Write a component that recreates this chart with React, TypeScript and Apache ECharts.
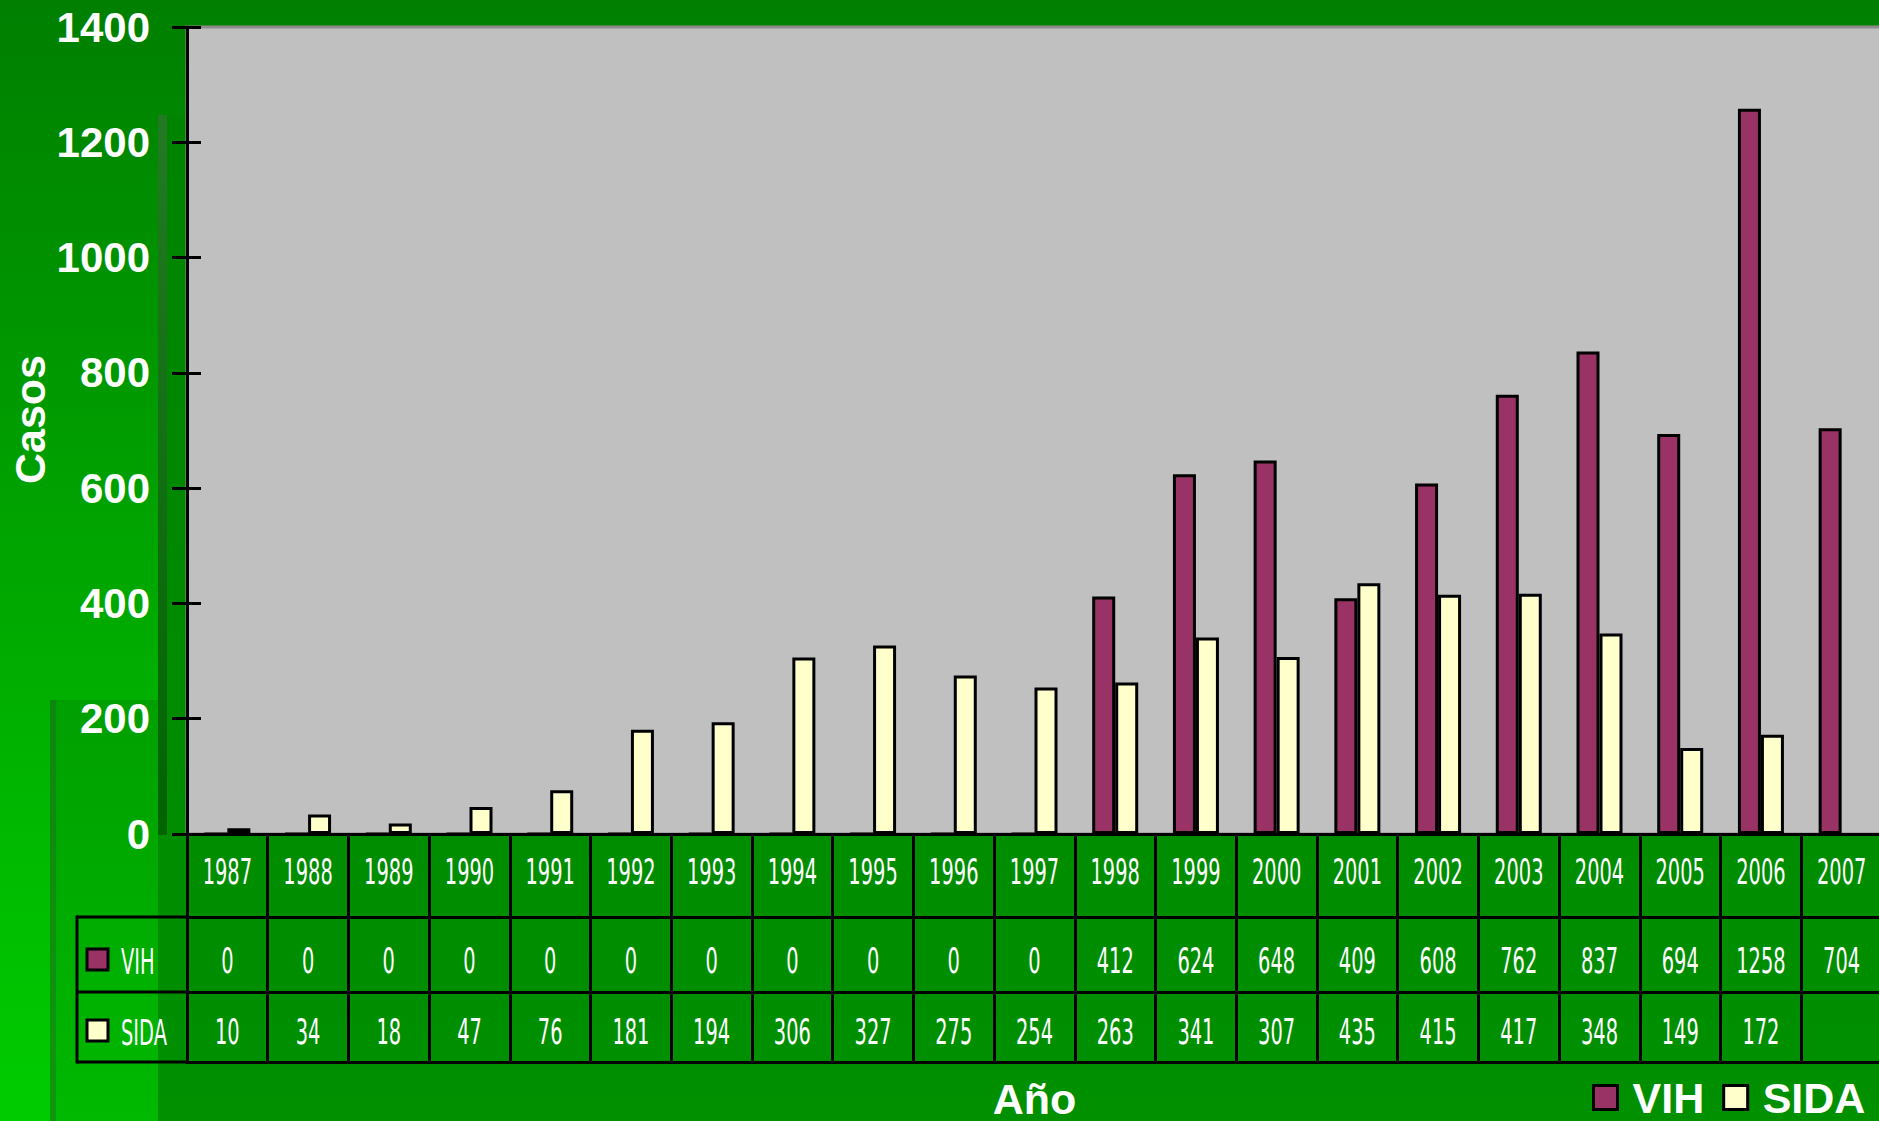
import React, { useEffect, useRef } from "react";
import * as echarts from "echarts";

const years = ["1987", "1988", "1989", "1990", "1991", "1992", "1993", "1994", "1995", "1996", "1997", "1998", "1999", "2000", "2001", "2002", "2003", "2004", "2005", "2006", "2007"];
const vih: (number | null)[] = [0, 0, 0, 0, 0, 0, 0, 0, 0, 0, 0, 412, 624, 648, 409, 608, 762, 837, 694, 1258, 704];
const sida: (number | null)[] = [10, 34, 18, 47, 76, 181, 194, 306, 327, 275, 254, 263, 341, 307, 435, 415, 417, 348, 149, 172, null];
const yMin = 0;
const yMax = 1400;
const yStep = 200;

const VIH_COLOR = "#993366";
const SIDA_COLOR = "#ffffcc";
const TABLE_FONT = "'DejaVu Sans Condensed', 'Liberation Sans Narrow', sans-serif";
const TABLE_FONT_SIZE = 36;
const TABLE_SCALE_X = 0.6;
const BOLD_FONT = "'Liberation Sans', Arial, sans-serif";

export default function App() {
  const ref = useRef<HTMLDivElement>(null);
  useEffect(() => {
    if (!ref.current) return;
    const chart = echarts.init(ref.current, null, { renderer: "svg" });
    const gridLeft = 187;
    const gridTop = 27;
    const gridHeight = 807;
    const gridWidth = 1695;
    const axisY = gridTop + gridHeight; // 834
    const rowOffsets = [0, 83, 158, 228];
    const rowCenters = [axisY + 37, axisY + 126, axisY + 197];
    const tableFont = `${TABLE_FONT_SIZE}px ${TABLE_FONT}`;
    const blackLine = { show: true, onZero: false, lineStyle: { color: "#000", width: 3 } };
    const cellText = (text: string, x: number, y: number, align: string) => ({
      type: "text",
      x,
      y,
      scaleX: TABLE_SCALE_X,
      style: { text, fill: "#fff", font: tableFont, align, verticalAlign: "middle" },
    });
    const option: any = {
      animation: false,
      backgroundColor: "transparent",
      graphic: {
        elements: [
          {
            type: "rect", z: -100, silent: true,
            shape: { x: 0, y: 0, width: 1879, height: 1121 },
            style: { fill: { type: "linear", x: 0, y: 0, x2: 0, y2: 1, colorStops: [{ offset: 0, color: "#007f00" }, { offset: 1, color: "#00cc00" }] } },
          },
          {
            type: "rect", z: -99, silent: true,
            shape: { x: 50, y: 700, width: 1829, height: 421 },
            style: { fill: "rgba(0,50,0,0.12)" },
          },
          {
            type: "rect", z: -99, silent: true,
            shape: { x: 50, y: 700, width: 6, height: 421 },
            style: { fill: "rgba(40,90,40,0.35)" },
          },
          {
            type: "rect", z: -98, silent: true,
            shape: { x: 158, y: 115, width: 1721, height: 1006 },
            style: { fill: { type: "linear", x: 0, y: 0, x2: 0, y2: 1, colorStops: [{ offset: 0, color: "#008400" }, { offset: 1, color: "#009000" }] } },
          },
          {
            type: "rect", z: -97, silent: true,
            shape: { x: 158, y: 115, width: 9, height: 720 },
            style: { fill: { type: "linear", x: 0, y: 0, x2: 0, y2: 1, colorStops: [{ offset: 0, color: "#237a23" }, { offset: 1, color: "#006400" }] } },
          },
          { type: "line", z: 10, shape: { x1: 77, y1: axisY + rowOffsets[1], x2: 188, y2: axisY + rowOffsets[1] }, style: { stroke: "#000", lineWidth: 3 } },
          { type: "line", z: 10, shape: { x1: 77, y1: axisY + rowOffsets[2], x2: 188, y2: axisY + rowOffsets[2] }, style: { stroke: "#000", lineWidth: 3 } },
          { type: "line", z: 10, shape: { x1: 77, y1: axisY + rowOffsets[3], x2: 188, y2: axisY + rowOffsets[3] }, style: { stroke: "#000", lineWidth: 3 } },
          { type: "line", z: 10, shape: { x1: 77, y1: axisY + rowOffsets[1] - 1.5, x2: 77, y2: axisY + rowOffsets[3] + 1.5 }, style: { stroke: "#000", lineWidth: 3 } },
          { type: "rect", z: 10, shape: { x: 87, y: rowCenters[1] - 11, width: 21, height: 21 }, style: { fill: VIH_COLOR, stroke: "#000", lineWidth: 3 } },
          { type: "rect", z: 10, shape: { x: 87, y: rowCenters[2] - 11, width: 21, height: 21 }, style: { fill: SIDA_COLOR, stroke: "#000", lineWidth: 3 } },
          { ...cellText("VIH", 121, rowCenters[1] + 1, "left"), z: 10 },
          { ...cellText("SIDA", 121, rowCenters[2] + 1, "left"), z: 10 },
        ],
      },
      grid: {
        left: gridLeft, top: gridTop, width: gridWidth, height: gridHeight,
        outerBoundsMode: "none",
        show: true, backgroundColor: "#c0c0c0", borderColor: "#8c8c8c", borderWidth: 3,
      },
      legend: {
        left: 1592, top: 1076, padding: 0, itemWidth: 24, itemHeight: 24, itemGap: 18,
        icon: "rect",
        itemStyle: { borderColor: "#000", borderWidth: 3 },
        textStyle: { color: "#fff", fontSize: 43, fontWeight: "bold", fontFamily: BOLD_FONT, padding: [0, 0, 0, 10] },
        data: ["VIH", "SIDA"],
      },
      xAxis: rowOffsets.map((off, k) => ({
        type: "category", data: years, position: "bottom", offset: off, gridIndex: 0,
        axisLine: blackLine,
        axisTick: k < 3
          ? { show: true, interval: 0, length: rowOffsets[k + 1] - off, lineStyle: { color: "#000", width: 3 } }
          : { show: false },
        axisLabel: { show: false },
        splitLine: { show: false },
        ...(k === 3
          ? {
              name: "Año", nameLocation: "middle", nameGap: 15,
              nameTextStyle: { color: "#fff", fontSize: 43, fontWeight: "bold", fontFamily: BOLD_FONT },
            }
          : {}),
      })),
      yAxis: [
        {
          type: "value", min: yMin, max: yMax, interval: yStep, position: "left",
          axisLine: blackLine,
          axisTick: { show: true, length: 15, lineStyle: { color: "#000", width: 3 } },
          axisLabel: { color: "#fff", fontSize: 42, fontWeight: "bold", fontFamily: BOLD_FONT, margin: 37, formatter: (v: number) => String(v) },
          splitLine: { show: false },
          name: "Casos", nameLocation: "middle", nameRotate: 90, nameGap: 157, nameMoveOverlap: false,
          nameTextStyle: { color: "#fff", fontSize: 43, fontWeight: "bold", fontFamily: BOLD_FONT, align: "center", verticalAlign: "middle", padding: [0, 0, 0, 22] },
        },
        {
          type: "value", min: yMin, max: yMax, interval: yStep, position: "left",
          axisLine: { show: false },
          axisTick: { show: true, inside: true, length: 14, lineStyle: { color: "#000", width: 3 } },
          axisLabel: { show: false },
          splitLine: { show: false },
        },
      ],
      series: [
        {
          name: "VIH", type: "bar", xAxisIndex: 0, yAxisIndex: 0, data: vih,
          barWidth: 23, barGap: "0%",
          itemStyle: { color: VIH_COLOR, borderColor: "#000", borderWidth: 3 },
        },
        {
          name: "SIDA", type: "bar", xAxisIndex: 0, yAxisIndex: 0, data: sida,
          barWidth: 23, barGap: "0%",
          itemStyle: { color: SIDA_COLOR, borderColor: "#000", borderWidth: 3 },
        },
        {
          name: "tabla", type: "custom", xAxisIndex: 0, yAxisIndex: 0, z: 5,
          clip: false, silent: true,
          data: years.map((_, i) => [i, 0]),
          encode: { x: 0, y: 1 },
          renderItem: (_params: any, api: any) => {
            const i = api.value(0);
            const x = api.coord([i, 0])[0];
            const v = vih[i];
            const s = sida[i];
            return {
              type: "group",
              children: [
                cellText(years[i], x, rowCenters[0], "center"),
                cellText(v == null ? "" : String(v), x, rowCenters[1], "center"),
                cellText(s == null ? "" : String(s), x, rowCenters[2], "center"),
              ],
            };
          },
        },
      ],
    };
    chart.setOption(option);
    return () => chart.dispose();
  }, []);
  return <div ref={ref} style={{ position: "absolute", left: 0, top: 0, width: 1879, height: 1121 }} />;
}
